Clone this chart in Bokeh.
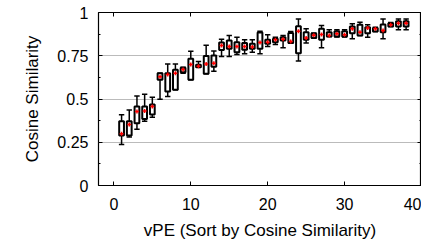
import numpy as np
from bokeh.plotting import figure
from bokeh.models import Range1d, LinearAxis, FixedTicker
from bokeh.embed import file_html
from bokeh.resources import INLINE

xs = list(range(1, 39))
upper = [0.409, 0.437, 0.518, 0.528, 0.510, 0.649, 0.703, 0.703, 0.684, 0.776,
         0.717, 0.810, 0.778, 0.846, 0.867, 0.857, 0.842, 0.842, 0.892, 0.871,
         0.857, 0.867, 0.890, 0.963, 0.906, 0.882, 0.925, 0.900, 0.900, 0.900,
         0.935, 0.944, 0.929, 0.915, 0.963, 0.942, 0.963, 0.963]
q3 = [0.372, 0.372, 0.457, 0.457, 0.468, 0.649, 0.649, 0.669, 0.680, 0.732,
      0.698, 0.748, 0.751, 0.826, 0.838, 0.828, 0.823, 0.819, 0.884, 0.842,
      0.848, 0.857, 0.882, 0.921, 0.886, 0.879, 0.906, 0.886, 0.892, 0.892,
      0.919, 0.929, 0.915, 0.911, 0.931, 0.938, 0.950, 0.950]
median = [0.299, 0.353, 0.428, 0.430, 0.457, 0.628, 0.642, 0.649, 0.670, 0.699,
          0.690, 0.703, 0.707, 0.809, 0.803, 0.803, 0.803, 0.800, 0.827, 0.828,
          0.842, 0.846, 0.832, 0.892, 0.853, 0.868, 0.873, 0.867, 0.877, 0.871,
          0.906, 0.886, 0.910, 0.906, 0.896, 0.929, 0.938, 0.938]
q1 = [0.289, 0.289, 0.360, 0.385, 0.410, 0.611, 0.543, 0.553, 0.655, 0.611,
      0.684, 0.646, 0.686, 0.783, 0.790, 0.770, 0.784, 0.790, 0.790, 0.819,
      0.828, 0.838, 0.823, 0.765, 0.842, 0.853, 0.842, 0.861, 0.861, 0.861,
      0.880, 0.867, 0.880, 0.890, 0.886, 0.919, 0.919, 0.919]
lower = [0.237, 0.280, 0.325, 0.372, 0.395, 0.499, 0.514, 0.553, 0.649, 0.611,
         0.684, 0.646, 0.660, 0.746, 0.746, 0.757, 0.761, 0.770, 0.761, 0.803,
         0.815, 0.796, 0.823, 0.719, 0.823, 0.853, 0.796, 0.861, 0.858, 0.858,
         0.848, 0.867, 0.857, 0.890, 0.848, 0.919, 0.900, 0.900]

x_ticks = [0, 10, 20, 30, 40]
y_ticks = [0, 0.25, 0.5, 0.75, 1]
y_minor = [0.125, 0.375, 0.625, 0.875]
y_tick_labels = {0: "0", 0.25: "0.25", 0.5: "0.5", 0.75: "0.75", 1: "1"}

FONT = "Liberation Sans"
p = figure(width=421, height=243, output_backend="svg", toolbar_location=None,
           x_range=Range1d(-2, 40), y_range=Range1d(0, 1),
           min_border_left=98, min_border_right=0, min_border_top=12, min_border_bottom=58)
p.outline_line_color = "black"
p.outline_line_width = 1.2
p.background_fill_color = "white"
p.border_fill_color = "white"

p.xgrid.visible = False
p.ygrid.ticker = FixedTicker(ticks=[0.25, 0.5, 0.75])
p.ygrid.grid_line_color = "#777777"
p.ygrid.grid_line_dash = "1 1"
p.ygrid.grid_line_width = 1

for ax in (p.xaxis[0], p.yaxis[0]):
    ax.axis_line_color = None
    ax.major_tick_in = 4
    ax.major_tick_out = 0
    ax.minor_tick_in = 2
    ax.minor_tick_out = 0
    ax.major_label_text_font = FONT
    ax.major_label_text_font_size = "16px"
    ax.major_label_text_color = "black"
    ax.axis_label_text_font = FONT
    ax.axis_label_text_font_size = "17px"
    ax.axis_label_text_font_style = "normal"
    ax.axis_label_text_color = "black"
    ax.major_tick_line_color = "black"
    ax.minor_tick_line_color = "black"

p.xaxis.ticker = FixedTicker(ticks=x_ticks)
p.xaxis.axis_label = "vPE (Sort by Cosine Similarity)"
p.xaxis.minor_tick_line_color = None
p.xaxis.major_label_standoff = 12
p.xaxis.axis_label_standoff = 8
p.yaxis.ticker = FixedTicker(ticks=y_ticks, minor_ticks=y_minor)
p.yaxis.major_label_overrides = y_tick_labels
p.yaxis.axis_label = "Cosine Similarity"
p.yaxis.major_label_standoff = 10
p.yaxis.axis_label_standoff = 12

# mirrored ticks on right and top
empty_y = {t: "" for t in y_ticks}
empty_x = {t: "" for t in x_ticks}
rax = LinearAxis(ticker=FixedTicker(ticks=y_ticks, minor_ticks=y_minor),
                 major_label_overrides=empty_y, major_label_text_color=None,
                 axis_line_color=None, major_tick_in=4, major_tick_out=0,
                 minor_tick_in=2, minor_tick_out=0, major_label_standoff=0)
p.add_layout(rax, "right")
tax = LinearAxis(ticker=FixedTicker(ticks=x_ticks),
                 major_label_overrides=empty_x, major_label_text_color=None,
                 axis_line_color=None, major_tick_in=4, major_tick_out=0,
                 minor_tick_line_color=None, major_label_standoff=0)
p.add_layout(tax, "above")

xa = np.array(xs, dtype=float)
cap = 0.35
p.segment(xa, np.array(q3), xa, np.array(upper), line_color="black", line_width=1.5)
p.segment(xa, np.array(q1), xa, np.array(lower), line_color="black", line_width=1.5)
p.segment(xa - cap, np.array(upper), xa + cap, np.array(upper), line_color="black", line_width=1.5)
p.segment(xa - cap, np.array(lower), xa + cap, np.array(lower), line_color="black", line_width=1.5)
p.vbar(x=xa, width=0.62, top=np.array(q3), bottom=np.array(q1),
       fill_color="white", line_color="black", line_width=2)
p.scatter(xa, np.array(median), marker="cross", size=4, line_color="red", line_width=1.5)

open("out.html", "w").write(file_html(p, INLINE))
